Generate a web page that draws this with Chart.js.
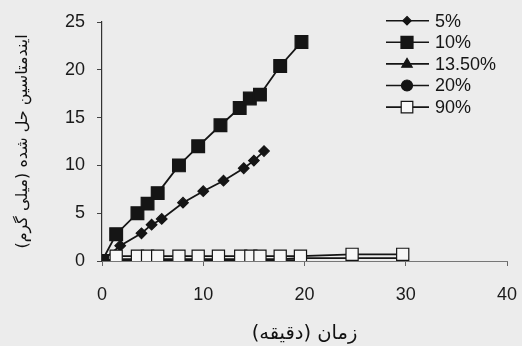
<!DOCTYPE html>
<html>
<head>
<meta charset="utf-8">
<style>
  html, body { margin: 0; padding: 0; background: #ececec; }
  #wrap { width: 522px; height: 346px; }
</style>
<script src="https://cdn.jsdelivr.net/npm/chart.js@4.4.1/dist/chart.umd.min.js"></script>
</head>
<body>
<div id="wrap"><canvas id="c" width="522" height="346" dir="rtl"></canvas></div>
<script>
// Dissolved indomethacin (mg) against time (min) for five concentrations
const seriesNames = ['5%', '10%', '13.50%', '20%', '90%'];

const time5 = [0, 1.8, 3.9, 4.9, 5.9, 8.0, 10.0, 12.0, 14.0, 15.0, 16.0];
const dissolved5 = [0, 1.6, 2.9, 3.8, 4.4, 6.1, 7.3, 8.4, 9.7, 10.5, 11.5];

const time10 = [0, 1.4, 3.5, 4.5, 5.5, 7.6, 9.5, 11.7, 13.6, 14.6, 15.6, 17.6, 19.7];
const dissolved10 = [0, 2.8, 5.0, 6.0, 7.1, 10.0, 12.0, 14.2, 16.0, 17.0, 17.4, 20.4, 22.9];

const time13 = [0, 1.4, 3.5, 4.5, 5.5, 7.6, 9.5, 11.5, 13.7, 14.7, 15.6, 17.6, 19.6];
const dissolved13 = [0, 0.1, 0.1, 0.1, 0.1, 0.1, 0.1, 0.1, 0.1, 0.1, 0.1, 0.1, 0.1];

const time20 = [0, 1.4, 3.5, 4.5, 5.5, 7.6, 9.5, 11.5, 13.7, 14.7, 15.6, 17.6, 19.6, 24.7, 29.7];
const dissolved20 = [0, 0.2, 0.2, 0.2, 0.2, 0.2, 0.2, 0.2, 0.2, 0.2, 0.2, 0.2, 0.3, 0.3, 0.3];

const time90 = [1.4, 3.5, 4.5, 5.5, 7.6, 9.5, 11.5, 13.7, 14.7, 15.6, 17.6, 19.6, 24.7, 29.7];
const dissolved90 = [0.5, 0.5, 0.5, 0.5, 0.5, 0.5, 0.5, 0.5, 0.5, 0.5, 0.5, 0.5, 0.7, 0.7];

const xTicks = [0, 10, 20, 30, 40];
const yTicks = [0, 5, 10, 15, 20, 25];

const xTitle = 'زمان (دقیقه)';
const yTitle = 'ایندمتاسین حل شده (میلی گرم)';

const pairs = (xs, ys) => xs.map((x, i) => ({ x: x, y: ys[i] }));

const ink = '#151515';
const paper = '#ececec';

function series(label, xs, ys, style, radius, fill, legendRadius, order) {
  return {
    label: label,
    data: pairs(xs, ys),
    showLine: true,
    borderColor: ink,
    borderWidth: 1.8,
    pointStyle: style,
    pointRadius: radius,
    pointBackgroundColor: fill,
    pointBorderColor: ink,
    pointBorderWidth: 1.2,
    legendRadius: legendRadius,
    order: order,
    tension: 0
  };
}

const datasets = [
  series(seriesNames[0], time5, dissolved5, 'rectRot', 5.3, ink, 4.2, 2),
  series(seriesNames[1], time10, dissolved10, 'rect', 9, ink, 8.5, 1),
  series(seriesNames[2], time13, dissolved13, 'triangle', 5, ink, 5.5, 4),
  series(seriesNames[3], time20, dissolved20, 'circle', 5, ink, 5.5, 3),
  series(seriesNames[4], time90, dissolved90, 'rect', 8.6, '#f7f7f7', 8.2, 0)
];

function marker(ctx, style, x, y, r, fill) {
  ctx.beginPath();
  if (style === 'rect') {
    const s = r * Math.SQRT1_2;
    ctx.rect(x - s, y - s, 2 * s, 2 * s);
  } else if (style === 'rectRot') {
    ctx.moveTo(x, y - r); ctx.lineTo(x + r, y); ctx.lineTo(x, y + r); ctx.lineTo(x - r, y);
    ctx.closePath();
  } else if (style === 'triangle') {
    ctx.moveTo(x, y - r); ctx.lineTo(x + r * 0.95, y + r * 0.6); ctx.lineTo(x - r * 0.95, y + r * 0.6);
    ctx.closePath();
  } else {
    ctx.arc(x, y, r, 0, Math.PI * 2);
  }
  ctx.fillStyle = fill;
  ctx.fill();
  ctx.lineWidth = 1.2;
  ctx.strokeStyle = ink;
  ctx.stroke();
}

// Paper background behind everything
const paperPlugin = {
  id: 'paper',
  beforeDraw(chart) {
    const ctx = chart.ctx;
    ctx.save();
    ctx.fillStyle = paper;
    ctx.fillRect(0, 0, chart.width, chart.height);
    ctx.restore();
  }
};

// Legend with a line through each marker, in the upper right of the plot
const lineLegend = {
  id: 'lineLegend',
  afterDraw(chart) {
    const ctx = chart.ctx;
    ctx.save();
    ctx.direction = 'ltr';
    chart.data.datasets.forEach((ds, i) => {
      const y = 20.7 + i * 21.6;
      ctx.beginPath();
      ctx.moveTo(386, y);
      ctx.lineTo(429, y);
      ctx.lineWidth = 1.6;
      ctx.strokeStyle = ink;
      ctx.stroke();
      marker(ctx, ds.pointStyle, 407, y, ds.legendRadius, ds.pointBackgroundColor);
      ctx.fillStyle = ink;
      ctx.font = '18px "Liberation Sans", Arial, sans-serif';
      ctx.textAlign = 'left';
      ctx.textBaseline = 'middle';
      ctx.fillText(ds.label, 435, y + 1);
    });
    ctx.restore();
  }
};

new Chart(document.getElementById('c'), {
  type: 'scatter',
  data: { datasets: datasets },
  plugins: [paperPlugin, lineLegend],
  options: {
    responsive: false,
    animation: false,
    devicePixelRatio: 1,
    layout: { padding: { top: 22, right: 15, left: 0, bottom: 0 } },
    plugins: { legend: { display: false }, tooltip: { enabled: false } },
    scales: {
      x: {
        type: 'linear',
        min: 0, max: 40,
        afterBuildTicks: s => { s.ticks = xTicks.map(v => ({ value: v })); },
        afterFit: s => { s.height = 85; s.paddingLeft = 0; s.paddingRight = 0; },
        ticks: {
          color: '#1a1a1a',
          padding: 18,
          maxRotation: 0,
          font: { family: '"Liberation Sans", Arial, sans-serif', size: 18 }
        },
        grid: { drawOnChartArea: false, drawTicks: true, tickLength: 5, color: '#666' },
        border: { color: '#777', width: 1 },
        title: {
          display: true,
          text: xTitle,
          color: '#111',
          font: { family: '"DejaVu Sans", sans-serif', size: 19.5 },
          padding: { top: 2, bottom: 0 }
        }
      },
      y: {
        type: 'linear',
        min: 0, max: 25,
        afterBuildTicks: s => { s.ticks = yTicks.map(v => ({ value: v })); },
        afterFit: s => { s.width = 102; s.paddingTop = 0; s.paddingBottom = 0; },
        ticks: {
          color: '#1a1a1a',
          padding: 12,
          font: { family: '"Liberation Sans", Arial, sans-serif', size: 18 }
        },
        grid: { drawOnChartArea: false, drawTicks: true, tickLength: 5, color: '#444' },
        border: { color: '#333', width: 1.2 },
        title: {
          display: true,
          text: yTitle,
          color: '#111',
          font: { family: '"DejaVu Sans", sans-serif', size: 16 },
          padding: { top: 13, bottom: 0 }
        }
      }
    }
  }
});
</script>
</body>
</html>
